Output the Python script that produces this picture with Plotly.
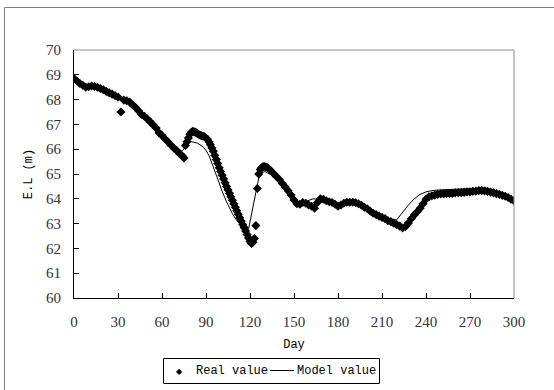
import plotly.graph_objects as go

# Observed reservoir water level (E.L, m) by day
real_day = [0, 2, 4, 6, 8, 10, 12, 14, 16, 18, 20, 22, 24, 26, 28, 30, 32, 34, 36, 38,
            40, 42, 44, 46, 48, 50, 52, 54, 56, 58, 60, 62, 64, 66, 68, 70, 72, 74, 75,
            76, 77, 78, 79, 80, 81, 82, 83, 84, 85, 86, 87, 88, 89, 90, 91, 92, 93, 94,
            95, 96, 97, 98, 99, 100, 101, 102, 103, 104, 105, 106, 107, 108, 109, 110,
            111, 112, 113, 114, 115, 116, 117, 118, 119, 120, 121, 122, 123, 124, 125,
            126, 127, 128, 129, 130, 131, 132, 134, 136, 138, 140, 142, 144, 146, 148,
            150, 152, 154, 156, 158, 160, 162, 164, 166, 168, 170, 172, 174, 176, 178,
            180, 182, 184, 186, 188, 190, 192, 194, 196, 198, 200, 202, 204, 206, 208,
            210, 212, 214, 216, 218, 220, 222, 224, 226, 228, 230, 232, 234, 236, 238,
            240, 242, 244, 246, 248, 250, 252, 254, 256, 258, 260, 262, 264, 266, 268,
            270, 272, 274, 276, 278, 280, 282, 284, 286, 288, 290, 292, 294, 296, 298, 300]
real_level = [68.85, 68.75, 68.65, 68.58, 68.50, 68.52, 68.55, 68.53, 68.50, 68.45, 68.40,
              68.33, 68.27, 68.22, 68.16, 68.10, 67.50, 67.98, 67.95, 67.90,
              67.78, 67.68, 67.55, 67.40, 67.33, 67.22, 67.10, 66.98, 66.85, 66.66,
              66.55, 66.42, 66.30, 66.17, 66.05, 65.95, 65.82, 65.72, 65.65,
              66.15, 66.30, 66.45, 66.60, 66.68, 66.72, 66.70, 66.68, 66.64, 66.60, 66.56,
              66.54, 66.52, 66.50, 66.45, 66.40, 66.30, 66.18, 66.05,
              65.92, 65.75, 65.58, 65.42, 65.25, 65.10, 64.95, 64.80, 64.65, 64.50, 64.36,
              64.22, 64.08, 63.94, 63.80, 63.66,
              63.52, 63.38, 63.24, 63.10, 62.96, 62.84, 62.70, 62.56, 62.42, 62.28, 62.20,
              62.25, 62.40, 62.92, 64.42,
              65.00, 65.18, 65.26, 65.30, 65.30, 65.28, 65.25, 65.15, 65.02, 64.90, 64.78,
              64.62, 64.48, 64.32, 64.15,
              63.95, 63.80, 63.78, 63.85, 63.82, 63.75, 63.70, 63.62, 63.85, 64.00, 63.98,
              63.92, 63.88, 63.85, 63.78,
              63.70, 63.75, 63.82, 63.86, 63.86, 63.86, 63.84, 63.80, 63.74, 63.66, 63.60,
              63.50, 63.42, 63.36, 63.30,
              63.25, 63.20, 63.12, 63.08, 63.02, 62.96, 62.90, 62.82, 62.88, 63.02, 63.20,
              63.35, 63.48, 63.62, 63.80,
              63.98, 64.08, 64.12, 64.15, 64.18, 64.20, 64.20, 64.21, 64.22, 64.22, 64.24,
              64.25, 64.25, 64.26, 64.28,
              64.28, 64.30, 64.31, 64.33, 64.33, 64.32, 64.30, 64.27, 64.24, 64.21, 64.18,
              64.14, 64.10, 64.05, 63.98, 63.92]

# Simulated water level from the model
model_day = [0, 4, 8, 12, 16, 20, 24, 28, 32, 36, 40, 44, 48, 52, 56, 60, 64, 68, 72, 74,
             76, 78, 80, 84, 88, 90, 92, 95, 98, 101, 104, 108, 111, 114, 117, 119, 124.5,
             126, 128, 130, 134, 138, 142, 146, 150, 153, 156, 160, 163, 166, 170, 174,
             178, 181, 184, 188, 192, 196, 200, 204, 208, 212, 216, 220, 224, 228, 232,
             236, 240, 244, 250, 256, 262, 268, 274, 280, 286, 292, 296, 300]
model_level = [68.90, 68.68, 68.52, 68.52, 68.48, 68.38, 68.26, 68.14, 68.04, 67.94, 67.78,
               67.56, 67.34, 67.12, 66.86, 66.56, 66.28, 66.02, 65.92, 65.94,
               66.10, 66.25, 66.30, 66.25, 66.10, 65.95, 65.75, 65.30, 64.80, 64.30, 63.88,
               63.40, 63.12, 62.95, 62.80, 62.77, 64.38,
               64.85, 65.05, 65.10, 64.98, 64.80, 64.58, 64.30, 63.95, 63.78, 63.85, 63.95,
               64.00, 63.98, 63.95, 63.90,
               63.80, 63.72, 63.80, 63.84, 63.82, 63.74, 63.62, 63.48, 63.35, 63.25, 63.18,
               63.15, 63.45, 63.75, 64.00,
               64.18, 64.28, 64.33, 64.36, 64.38, 64.40, 64.42, 64.42, 64.38, 64.28, 64.16,
               64.06, 63.95]

x_ticks = [0, 30, 60, 90, 120, 150, 180, 210, 240, 270, 300]
y_ticks = [60, 61, 62, 63, 64, 65, 66, 67, 68, 69, 70]
series_names = ["Real value", "Model value"]

serif = "Liberation Serif"
mono = "Liberation Mono"

fig = go.Figure()
fig.add_trace(go.Scatter(
    x=real_day, y=real_level, mode="markers", name=series_names[0], showlegend=False,
    marker=dict(symbol="diamond", size=7, color="black", line=dict(width=0)),
))
fig.add_trace(go.Scatter(
    x=model_day, y=model_level, mode="lines", name=series_names[1], showlegend=False,
    line=dict(color="black", width=1),
))

L, R, T, B = 74, 40, 50, 92
W, H = 554, 390
pw, ph = W - L - R, H - T - B


def px(x):
    """pixel column -> paper x"""
    return (x - L) / pw


def py(y):
    """pixel row -> paper y"""
    return (H - B - y) / ph


shapes = [
    # grey top and right edges of the plot area
    dict(type="line", xref="paper", yref="paper", x0=0, x1=1, y0=1, y1=1,
         line=dict(color="#8c8c8c", width=1)),
    dict(type="line", xref="paper", yref="paper", x0=1, x1=1, y0=0, y1=1,
         line=dict(color="#8c8c8c", width=1)),
    # chart frame (left and top)
    dict(type="line", xref="paper", yref="paper",
         x0=px(4.5), x1=px(W + 2), y0=py(7.5), y1=py(7.5),
         line=dict(color="#808080", width=1)),
    dict(type="line", xref="paper", yref="paper",
         x0=px(4.5), x1=px(4.5), y0=py(7.5), y1=py(H + 2),
         line=dict(color="#808080", width=1)),
    # legend box and line key
    dict(type="rect", xref="paper", yref="paper",
         x0=px(163.5), x1=px(379.5), y0=py(358.5), y1=py(383.5),
         line=dict(color="black", width=1), fillcolor="white", layer="above"),
    dict(type="line", xref="paper", yref="paper",
         x0=px(270), x1=px(294), y0=py(370.5), y1=py(370.5),
         line=dict(color="black", width=1), layer="above"),
]

annotations = [
    dict(text="◆", xref="paper", yref="paper", x=px(179.5), y=py(371),
         xanchor="center", yanchor="middle", showarrow=False,
         font=dict(family="DejaVu Sans", size=8, color="black")),
    dict(text=series_names[0], xref="paper", yref="paper", x=px(194), y=py(371),
         xanchor="left", yanchor="middle", showarrow=False,
         font=dict(family=mono, size=12, color="black")),
    dict(text=series_names[1], xref="paper", yref="paper", x=px(295), y=py(371),
         xanchor="left", yanchor="middle", showarrow=False,
         font=dict(family=mono, size=12, color="black")),
]

fig.update_layout(
    width=W, height=H,
    margin=dict(l=L, r=R, t=T, b=B, autoexpand=False),
    paper_bgcolor="white", plot_bgcolor="white",
    showlegend=False,
    xaxis=dict(
        range=[0, 300], tickvals=x_ticks, ticks="inside", ticklen=5,
        tickcolor="black", showline=True, linecolor="black", linewidth=1,
        showgrid=False, zeroline=False, ticklabelstandoff=10,
        tickfont=dict(family=serif, size=15, color="#333333"),
        title=dict(text="Day", font=dict(family=mono, size=12, color="black"),
                   standoff=10),
    ),
    yaxis=dict(
        range=[60, 70], tickvals=y_ticks, ticks="inside", ticklen=5,
        tickcolor="black", showline=True, linecolor="black", linewidth=1,
        showgrid=False, zeroline=False, ticklabelstandoff=9,
        tickfont=dict(family=serif, size=15, color="#333333"),
        title=dict(text="E.L (m)", font=dict(family=mono, size=12, color="black"),
                   standoff=10),
    ),
    shapes=shapes,
    annotations=annotations,
)

fig.write_html("out.html")
